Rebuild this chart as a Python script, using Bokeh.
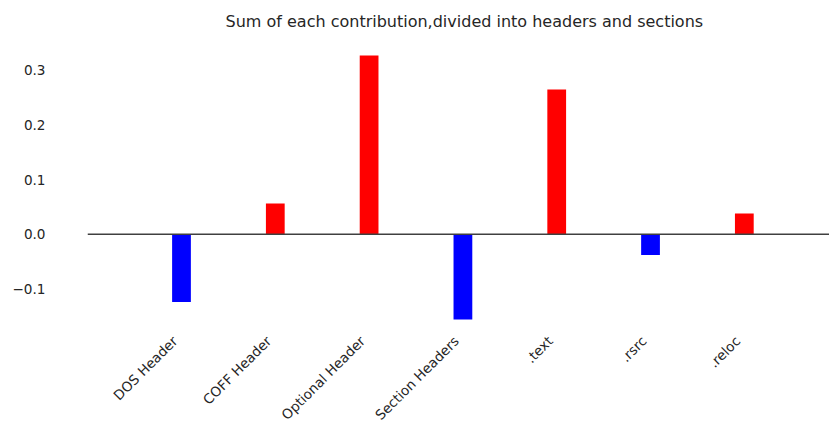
from bokeh.plotting import figure
from bokeh.models import Range1d, LinearAxis, FixedTicker, CustomJSTickFormatter, Span, ColumnDataSource
from bokeh.embed import file_html
from bokeh.resources import INLINE

categories = ["DOS Header", "COFF Header", "Optional Header", "Section Headers", ".text", ".rsrc", ".reloc"]
values = [-0.124, 0.056, 0.327, -0.156, 0.265, -0.038, 0.038]
colors = ["#0000ff" if v < 0 else "#ff0000" for v in values]
y_ticks = [-0.1, 0.0, 0.1, 0.2, 0.3]

src = ColumnDataSource(dict(x=list(range(len(categories))), top=values, color=colors))

X0, X1 = -1.002, 6.908
p = figure(width=829, height=431, output_backend="svg", toolbar_location=None,
           x_range=Range1d(X0, X1), y_range=Range1d(-0.1818, 0.3509),
           x_axis_location=None, min_border_left=87, min_border_right=0,
           min_border_top=42, min_border_bottom=97)
p.title.text = "Sum of each contribution,divided into headers and sections"
p.title.align = "left"
p.title.vertical_align = "top"
p.title.offset = 138
p.title.standoff = 19
p.title.text_font = "DejaVu Sans"
p.title.text_font_size = "16px"
p.title.text_font_style = "normal"
p.title.text_color = "#262626"
p.outline_line_color = None
p.grid.visible = False
p.background_fill_color = "white"
p.border_fill_color = "white"

p.vbar(x="x", top="top", bottom=0, width=0.2, color="color", line_color=None, source=src)
p.add_layout(Span(location=0, dimension="width", line_color="#404040", line_width=1.4))

yax = p.yaxis[0]
yax.ticker = FixedTicker(ticks=y_ticks)
yax.formatter = CustomJSTickFormatter(code="return tick.toFixed(1).replace('-', '\u2212');")
yax.axis_line_color = None
yax.major_tick_line_color = None
yax.minor_tick_line_color = None
yax.major_tick_out = 0
yax.major_label_standoff = 42
yax.major_label_text_font = "DejaVu Sans"
yax.major_label_text_font_size = "13.6px"
yax.major_label_text_color = "#262626"

shift = 0.07
p.extra_x_ranges = {"labels": Range1d(X0 + shift, X1 + shift)}
xax = LinearAxis(x_range_name="labels")
xax.ticker = FixedTicker(ticks=list(range(len(categories))))
xax.major_label_overrides = {i: c for i, c in enumerate(categories)}
xax.major_label_orientation = 0.785398
xax.axis_line_color = None
xax.major_tick_line_color = None
xax.minor_tick_line_color = None
xax.major_tick_out = 0
xax.major_label_standoff = 5
xax.major_label_text_font = "DejaVu Sans"
xax.major_label_text_font_size = "13.6px"
xax.major_label_text_color = "#262626"
p.add_layout(xax, "below")

open("out.html", "w").write(file_html(p, INLINE))
